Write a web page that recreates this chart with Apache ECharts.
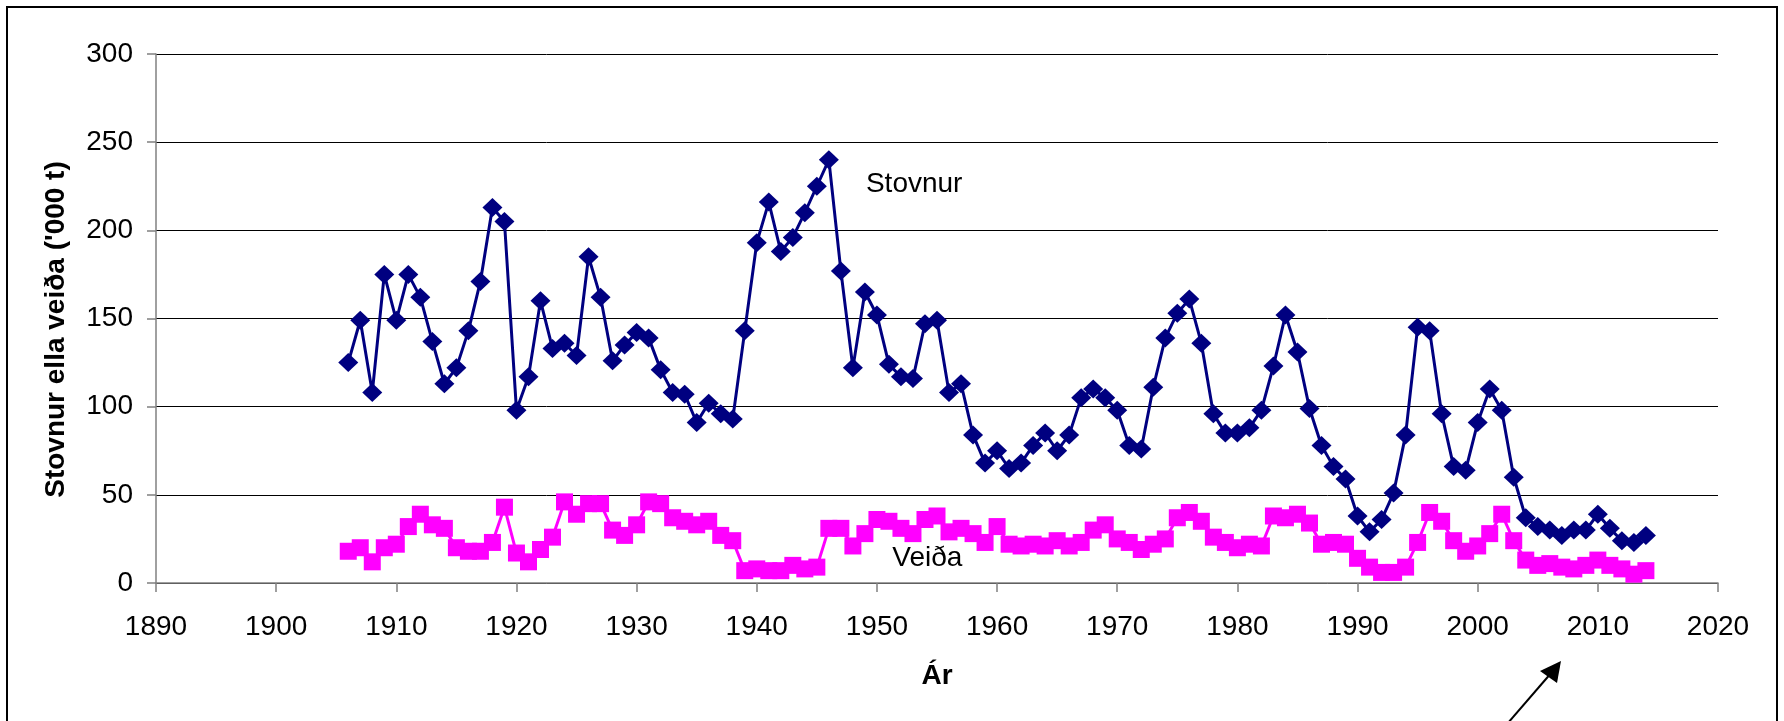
<!DOCTYPE html>
<html>
<head>
<meta charset="utf-8">
<script src="https://cdn.jsdelivr.net/npm/echarts@6/dist/echarts.min.js"></script>
<style>
  html, body { margin: 0; padding: 0; background: #fff; }
  #chart { width: 1784px; height: 721px; }
</style>
</head>
<body>
<div id="chart"></div>
<script>
const years = [
  1906, 1907, 1908, 1909, 1910, 1911, 1912, 1913, 1914, 1915,
  1916, 1917, 1918, 1919, 1920, 1921, 1922, 1923, 1924, 1925,
  1926, 1927, 1928, 1929, 1930, 1931, 1932, 1933, 1934, 1935,
  1936, 1937, 1938, 1939, 1940, 1941, 1942, 1943, 1944, 1945,
  1946, 1947, 1948, 1949, 1950, 1951, 1952, 1953, 1954, 1955,
  1956, 1957, 1958, 1959, 1960, 1961, 1962, 1963, 1964, 1965,
  1966, 1967, 1968, 1969, 1970, 1971, 1972, 1973, 1974, 1975,
  1976, 1977, 1978, 1979, 1980, 1981, 1982, 1983, 1984, 1985,
  1986, 1987, 1988, 1989, 1990, 1991, 1992, 1993, 1994, 1995,
  1996, 1997, 1998, 1999, 2000, 2001, 2002, 2003, 2004, 2005,
  2006, 2007, 2008, 2009, 2010, 2011, 2012, 2013, 2014
];

// stovnur ('000 t)
const stovnur = [
  125, 149, 108, 175, 149, 175, 162, 137, 113, 122,
  143, 171, 213, 205, 98, 117, 160, 133, 136, 129,
  185, 162, 126, 135, 142, 139, 121, 108, 107, 91,
  102, 96, 93, 143, 193, 216, 188, 196, 210, 225,
  240, 177, 122, 165, 152, 124, 117, 116, 147, 149,
  108, 113, 84, 68, 75, 65, 68, 78, 85, 75,
  84, 105, 110, 105, 98, 78, 76, 111, 139, 153,
  161, 136, 96, 85, 85, 88, 98, 123, 152, 131,
  99, 78, 66, 59, 38, 29, 36, 51, 84, 145,
  143, 96, 66, 64, 91, 110, 98, 60, 37, 32,
  30, 27, 30, 30, 39, 31, 24, 23, 27
];

// veiða ('000 t)
const veida = [
  18, 20, 12, 20, 22, 32, 39, 33, 31, 20,
  18, 18, 23, 43, 17, 12, 19, 26, 46, 39,
  45, 45, 30, 27, 33, 46, 45, 37, 35, 33,
  35, 27, 24, 7, 8, 7, 7, 10, 8, 9,
  31, 31, 21, 28, 36, 35, 31, 28, 36, 38,
  29, 31, 28, 23, 32, 22, 21, 22, 21, 24,
  21, 23, 30, 33, 25, 23, 19, 22, 25, 37,
  40, 35, 26, 23, 20, 22, 21, 38, 37, 39,
  34, 22, 23, 22, 14, 9, 6, 6, 9, 23,
  40, 35, 24, 18, 21, 28, 39, 24, 13, 10,
  11, 9, 8, 10, 13, 10, 8, 5, 7
];

const seriesNames = ["Stovnur", "Veiða"];
const xTitle = "Ár";
const yTitle = "Stovnur ella veiða ('000 t)";

const font = "Arial, 'Liberation Sans', sans-serif";

const chart = echarts.init(document.getElementById("chart"));

const pairs = (vals) => years.map((y, i) => [y, vals[i]]);

const option = {
  animation: false,
  backgroundColor: "#fff",
  textStyle: { fontFamily: font },
  grid: {
    left: 156,
    top: 54,
    right: 66,
    bottom: 138,
    containLabel: false,
  },
  xAxis: {
    type: "value",
    min: 1890,
    max: 2020,
    interval: 10,
    name: xTitle,
    nameLocation: "middle",
    nameGap: 79,
    nameTextStyle: { fontSize: 28, fontWeight: "bold", color: "#000", fontFamily: font },
    axisLine: { show: true, lineStyle: { color: "#808080", width: 1.5 } },
    axisTick: { show: true, inside: false, length: 9, lineStyle: { color: "#808080", width: 1.5 } },
    axisLabel: {
      fontSize: 28,
      color: "#000",
      margin: 30,
      fontFamily: font,
      formatter: (v) => String(v),
    },
    splitLine: { show: false },
  },
  yAxis: {
    type: "value",
    min: 0,
    max: 300,
    interval: 50,
    name: yTitle,
    nameLocation: "middle",
    nameGap: 86,
    nameRotate: 90,
    nameTextStyle: {
      fontSize: 28,
      fontWeight: "bold",
      color: "#000",
      fontFamily: font,
      padding: [0, 22, 0, 0],
    },
    axisLine: { show: true, lineStyle: { color: "#808080", width: 1.5 } },
    axisTick: { show: true, inside: false, length: 9, lineStyle: { color: "#808080", width: 1.5 } },
    axisLabel: { fontSize: 28, color: "#000", margin: 23, fontFamily: font },
    splitLine: { show: true, lineStyle: { color: "#000", width: 1 } },
  },
  series: [
    {
      name: seriesNames[1],
      type: "line",
      data: pairs(veida),
      symbol: "rect",
      symbolSize: 17,
      lineStyle: { color: "#ff00ff", width: 3 },
      itemStyle: { color: "#ff00ff" },
      z: 2,
    },
    {
      name: seriesNames[0],
      type: "line",
      data: pairs(stovnur),
      symbol: "diamond",
      symbolSize: [20, 19],
      lineStyle: { color: "#000080", width: 3 },
      itemStyle: { color: "#000080" },
      z: 3,
    },
  ],
};

chart.setOption(option);

// series labels and the frame / arrow drawn as decoration
const stovnurPos = chart.convertToPixel({ gridIndex: 0 }, [1953.1, 226]);
const veidaPos = chart.convertToPixel({ gridIndex: 0 }, [1954.2, 14]);

chart.setOption({
  graphic: [
    {
      type: "rect",
      shape: { x: 7, y: 7, width: 1770, height: 800 },
      style: { fill: "none", stroke: "#000", lineWidth: 2 },
      silent: true,
    },
    {
      type: "text",
      x: stovnurPos[0],
      y: stovnurPos[1],
      style: {
        text: seriesNames[0],
        font: "28px " + font,
        fill: "#000",
        align: "center",
        verticalAlign: "middle",
      },
    },
    {
      type: "text",
      x: veidaPos[0],
      y: veidaPos[1],
      style: {
        text: seriesNames[1],
        font: "28px " + font,
        fill: "#000",
        align: "center",
        verticalAlign: "middle",
      },
    },
    {
      type: "line",
      shape: { x1: 1495, y1: 738, x2: 1552, y2: 672 },
      style: { stroke: "#000", lineWidth: 2 },
    },
    {
      type: "polygon",
      shape: { points: [[1561, 661], [1540, 671], [1557, 683]] },
      style: { fill: "#000" },
    },
  ],
});
</script>
</body>
</html>
